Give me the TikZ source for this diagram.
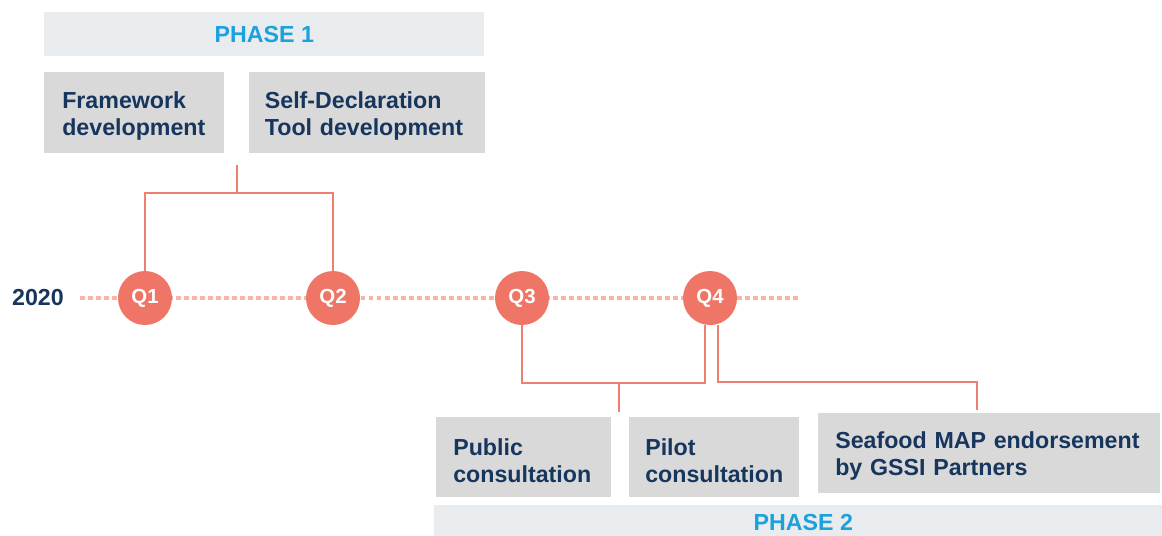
\documentclass[tikz,border=0pt]{standalone}
\usepackage{fontspec}
\setmainfont{Liberation Sans}
\usepackage{tikz}
\usetikzlibrary{positioning}
\definecolor{navy}{RGB}{23,54,93}
\definecolor{phasecyan}{RGB}{27,161,220}
\definecolor{phasebar}{RGB}{232,236,238}
\definecolor{boxgray}{RGB}{217,217,217}
\definecolor{salmon}{RGB}{239,118,102}
\definecolor{linkred}{RGB}{238,128,112}
\definecolor{dotpink}{RGB}{247,180,168}
\newcommand{\boxfont}{\bfseries\fontsize{16.5}{19.2}\selectfont}
\newcommand{\qfont}{\bfseries\fontsize{14.5}{16}\selectfont}
\hyphenpenalty=10000
\exhyphenpenalty=10000

\begin{document}
\begin{tikzpicture}[x=0.025cm, y=-0.025cm,
    phase/.style={fill=phasebar, anchor=north west, inner sep=0pt, text=phasecyan, font=\boxfont},
    task/.style={fill=boxgray, anchor=north west, inner ysep=0pt, inner xsep=0.45cm,
      align=left, text=navy, font=\boxfont, execute at begin node={\rule{0pt}{16.3pt}}},
    quarter/.style={circle, fill=salmon, minimum size=1.35cm, inner sep=0pt, text=white, font=\qfont},
    link/.style={draw=linkred, line width=1.1pt},
    timeline/.style={draw=dotpink, line width=2.8pt, dash pattern=on 3.5pt off 2.2pt}]
  \useasboundingbox (0, 0) rectangle (1162, 535);

  % phase 1
  \node[phase, minimum width=11cm, minimum height=1.1cm] (phase1) at (44, 12) {PHASE 1};
  \node[task, text width=3.6cm, minimum height=2.025cm] (framework) at (44, 72)
    {Framework\\development};
  \node[task, text width=5.1cm, inner xsep=0.4cm, minimum height=2.025cm, right=0.6cm of framework.north east, anchor=north west] (selfdecl)
    {Self-Declaration\\Tool development};

  % timeline
  \node[text=navy, font=\boxfont] (year) at (38, 298) {2020};
  \coordinate (tlstart) at (80, 298);
  \coordinate (tlend) at (800, 298);
  \draw[timeline] (tlstart) -- (tlend);
  \foreach \q/\x in {1/145, 2/333, 3/522, 4/710}
    \node[quarter] (q\q) at (\x, 298) {Q\q};

  % phase 2
  \node[task, text width=3.525cm, inner xsep=0.425cm, minimum height=2cm] (public) at (436, 417)
    {Public\\consultation};
  \node[task, text width=3.45cm, inner xsep=0.4cm, minimum height=2cm] (pilot) at (629, 417)
    {Pilot\\consultation};
  \node[task, text width=7.7cm, inner xsep=0.425cm, minimum height=2cm] (seafood) at (818, 413)
    {Seafood MAP endorsement\\by GSSI Partners};
  \node[phase, minimum width=18.45cm, minimum height=0.85cm] (phase2) at (434, 505) {PHASE 2};

  % brackets
  \coordinate (p1top) at (237, 165);
  \coordinate (p1mid) at (237, 193);
  \draw[link] (p1top) -- (p1mid);
  \draw[link] (q1.north) |- (p1mid) -| (q2.north);

  \coordinate (q4left) at (705, 383);
  \coordinate (p2mid) at (619, 383);
  \coordinate (p2foot) at (619, 412);
  \draw[link] (q3.south) |- (q4left) -- (q4left |- q4.south);
  \draw[link] (p2mid) -- (p2foot);

  \coordinate (q4right) at (718, 382);
  \coordinate (endfoot) at (977, 410);
  \draw[link] (q4right |- q4.south) -- (q4right) -| (endfoot);
\end{tikzpicture}
\end{document}
